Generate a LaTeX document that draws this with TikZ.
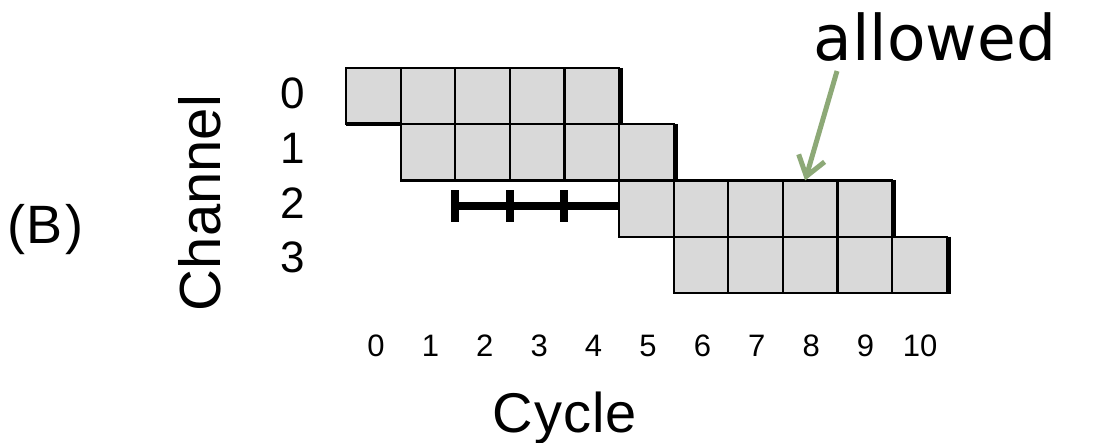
\documentclass[tikz,border=0pt]{standalone}
\usepackage{fontspec}
\setmainfont{Liberation Sans}
\newfontfamily\notefont{DejaVu Sans}
\usetikzlibrary{arrows.meta,positioning,calc}
\definecolor{cellgray}{RGB}{217,217,217}
\definecolor{hintgreen}{RGB}{141,169,119}

\begin{document}
\begin{tikzpicture}[
 x=1pt,y=-1pt,
 every node/.style={inner sep=0pt},
 cell/.style={draw=black,fill=cellgray,line width=2.2pt,outer sep=0pt,minimum width=54.6pt,minimum height=56.25pt},
 edge/.style={line width=5pt},
 bar/.style={line width=8pt},
 lab/.style={font=\fontsize{44}{46}\selectfont},
 num/.style={font=\fontsize{31}{33}\selectfont},
 arr/.style={-{Straight Barb[length=19pt,width=27pt]},line width=5pt,hintgreen}
]
 \useasboundingbox (0,0) rectangle (1119,442);
 \foreach \r/\s in {0/0,1/1,2/5,3/6}{
   \foreach \k in {0,...,4}{
     \pgfmathtruncatemacro\c{\s+\k}
     \node[cell] (c\r-\c) at ({373.3+54.6*\c},{96.1+56.25*\r}) {};
   }
 }
 \foreach \n in {c0-4,c1-5,c2-9,c3-10}
   \draw[edge] ([xshift=1.5pt]\n.north east) -- ([xshift=1.5pt,yshift=-1pt]\n.south east);
 \draw[line width=3.5pt] (c0-0.south west) -- (c0-0.south east);
 \coordinate (barL) at (456,206);
 \coordinate (barR) at (c2-5.west |- barL);
 \draw[bar] (barL) -- (barR);
 \foreach \c in {2,3,4}
   \draw[bar] ($(c1-\c.south west |- barL)+(0,-16)$) -- ($(c1-\c.south west |- barL)+(0,16)$);
 \node[font=\notefont\fontsize{63}{66}\selectfont,anchor=base] (allowed) at (935,60) {allowed};
 \coordinate (allowtail) at (837,71);
 \draw[arr] (allowtail) -- ([xshift=-5pt]c2-8.north);
 \foreach \r/\y in {0/93,1/148,2/203,3/257}
   \node[lab] (ch\r) at (293,\y) {\r};
 \node[font=\fontsize{58}{60}\selectfont,rotate=90] (channel) at (200,203) {Channel};
 \foreach \i in {0,...,10}
   \node[num] (cy\i) at ({376+54.4*\i},346) {\i};
 \node[font=\fontsize{56}{58}\selectfont,anchor=base] (cycle) at (565,432) {C\kern1pt y\kern1pt c\kern1pt l\kern1pt e};
 \node[font=\fontsize{54}{56}\selectfont,anchor=base] (panel) at (45,243) {(\kern2pt B\kern2pt)};
\end{tikzpicture}
\end{document}
